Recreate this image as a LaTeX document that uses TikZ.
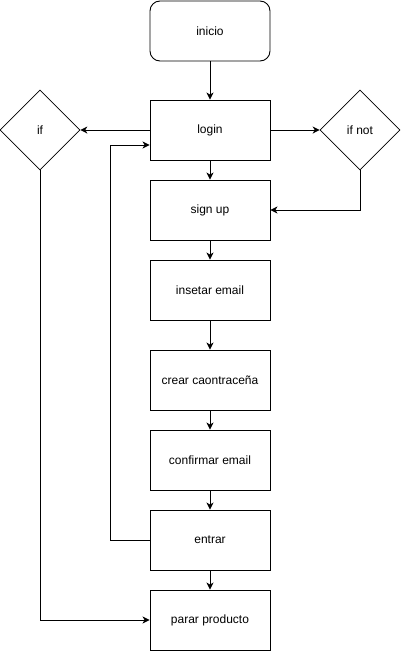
\documentclass[tikz,border=0pt]{standalone}
\usepackage{fontspec}
\setmainfont{Liberation Sans}
\usetikzlibrary{arrows.meta,shapes.geometric}
\begin{document}
\begin{tikzpicture}[x=1pt,y=-1pt,
  box/.style={draw,line width=0.9pt,minimum width=120pt,minimum height=60pt,inner sep=0pt,font=\fontsize{12}{14}\selectfont},
  rbox/.style={box,rounded corners=10pt},
  dia/.style={draw,diamond,aspect=1,line width=0.6pt,minimum width=80pt,minimum height=80pt,inner sep=0pt,font=\fontsize{12}{14}\selectfont},
  conn/.style={draw,line width=0.9pt,-{Stealth[length=7pt,width=7pt,inset=2pt]}}]
\useasboundingbox (0,0) rectangle (401,651);
\node[rbox] (inicio) at (210,31) {inicio};
\node[box] (login) at (210,130) {login};
\node[box] (signup) at (210,210) {sign up};
\node[box] (email) at (210,290) {insetar email};
\node[box] (crear) at (210,380) {crear caontraceña};
\node[box] (conf) at (210,460) {confirmar email};
\node[box] (entrar) at (210,540) {entrar};
\node[box] (parar) at (210,620) {parar producto};
\node[dia] (if) at (40,130) {if};
\node[dia] (ifnot) at (360,130) {if not};
\draw[conn] (inicio) -- (login);
\draw[conn] (login) -- (signup);
\draw[conn] (signup) -- (email);
\draw[conn] (email) -- (crear);
\draw[conn] (crear) -- (conf);
\draw[conn] (conf) -- (entrar);
\draw[conn] (entrar) -- (parar);
\draw[conn] (login.west) -- (if.east);
\draw[conn] (login.east) -- (ifnot.west);
\draw[conn] (ifnot.south) |- (signup.east);
\draw[conn] (if.south) |- (parar.west);
\draw[conn] (entrar.west) -- (110,540) |- ([yshift=-15pt]login.west);
\end{tikzpicture}
\end{document}
